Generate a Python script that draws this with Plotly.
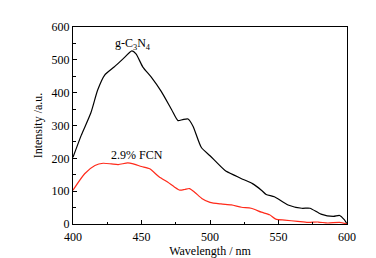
import plotly.graph_objects as go

wl_g = [400, 406, 413, 418, 423, 430, 436.5, 443, 446, 451, 457, 464.5, 472, 476.6, 480, 484, 487.6, 493.7, 500, 511, 518, 523, 531, 537.5, 541, 547, 557, 567, 573, 581, 590, 594.6, 598, 600]
int_g = [203, 270, 338, 408, 453, 478, 503, 527, 518, 478, 448, 403, 348, 315, 318, 320, 298, 233, 208, 163, 148, 138, 123, 103, 90, 83, 58, 48, 48, 30, 23, 26, 13, 0]

wl_f = [400, 408.5, 416, 422, 428, 433, 440, 444, 450, 456, 463, 469, 474, 478, 481.5, 485, 489, 494, 500, 508, 515.6, 523, 530, 537.5, 543.5, 548, 554.5, 564, 571.5, 579, 586, 594.6, 600]
int_f = [103, 153, 178, 185, 183, 181, 186, 183, 175, 168, 143, 128, 113, 103, 105, 108, 96, 78, 66, 61, 58, 51, 48, 36, 28, 15, 12, 8, 5, 6, 3, 5, 0]

x_ticks = [400, 450, 500, 550, 600]
y_ticks = [0, 100, 200, 300, 400, 500, 600]

font = "Liberation Serif"

fig = go.Figure()
fig.add_trace(go.Scatter(x=wl_g, y=int_g, mode="lines",
                         line=dict(color="black", width=1.2, shape="spline", smoothing=0.6),
                         showlegend=False))
fig.add_trace(go.Scatter(x=wl_f, y=int_f, mode="lines",
                         line=dict(color="#ff2a1a", width=1.2, shape="spline", smoothing=0.6),
                         showlegend=False))

fig.add_annotation(x=444, y=548, text="g-C<sub>3</sub>N<sub>4</sub>", showarrow=False,
                   font=dict(family=font, size=12, color="black"))
fig.add_annotation(x=447, y=211, text="2.9% FCN", showarrow=False,
                   font=dict(family=font, size=12, color="black"))

axis_common = dict(showgrid=False, zeroline=False, showline=True, linecolor="black",
                   linewidth=1, mirror=True, ticks="inside", ticklen=4, tickcolor="black",
                   tickfont=dict(family=font, size=12, color="black"))

fig.update_xaxes(range=[400, 600], tickvals=x_ticks, ticklabelstandoff=2,
                 minor=dict(ticks="inside", ticklen=2.5, dtick=25, tickcolor="black"),
                 title=dict(text="Wavelength / nm", font=dict(family=font, size=12, color="black"),
                            standoff=0),
                 **axis_common)
fig.update_yaxes(range=[0, 600], tickvals=y_ticks,
                 minor=dict(ticks="inside", ticklen=2.5, dtick=50, tickcolor="black"),
                 title=dict(text="Intensity /a.u.", font=dict(family=font, size=12, color="black"),
                            standoff=6),
                 **axis_common)

fig.update_layout(width=376, height=258, margin=dict(l=65, r=37, t=16, b=42),
                  plot_bgcolor="white", paper_bgcolor="white")

fig.write_html("out.html")
